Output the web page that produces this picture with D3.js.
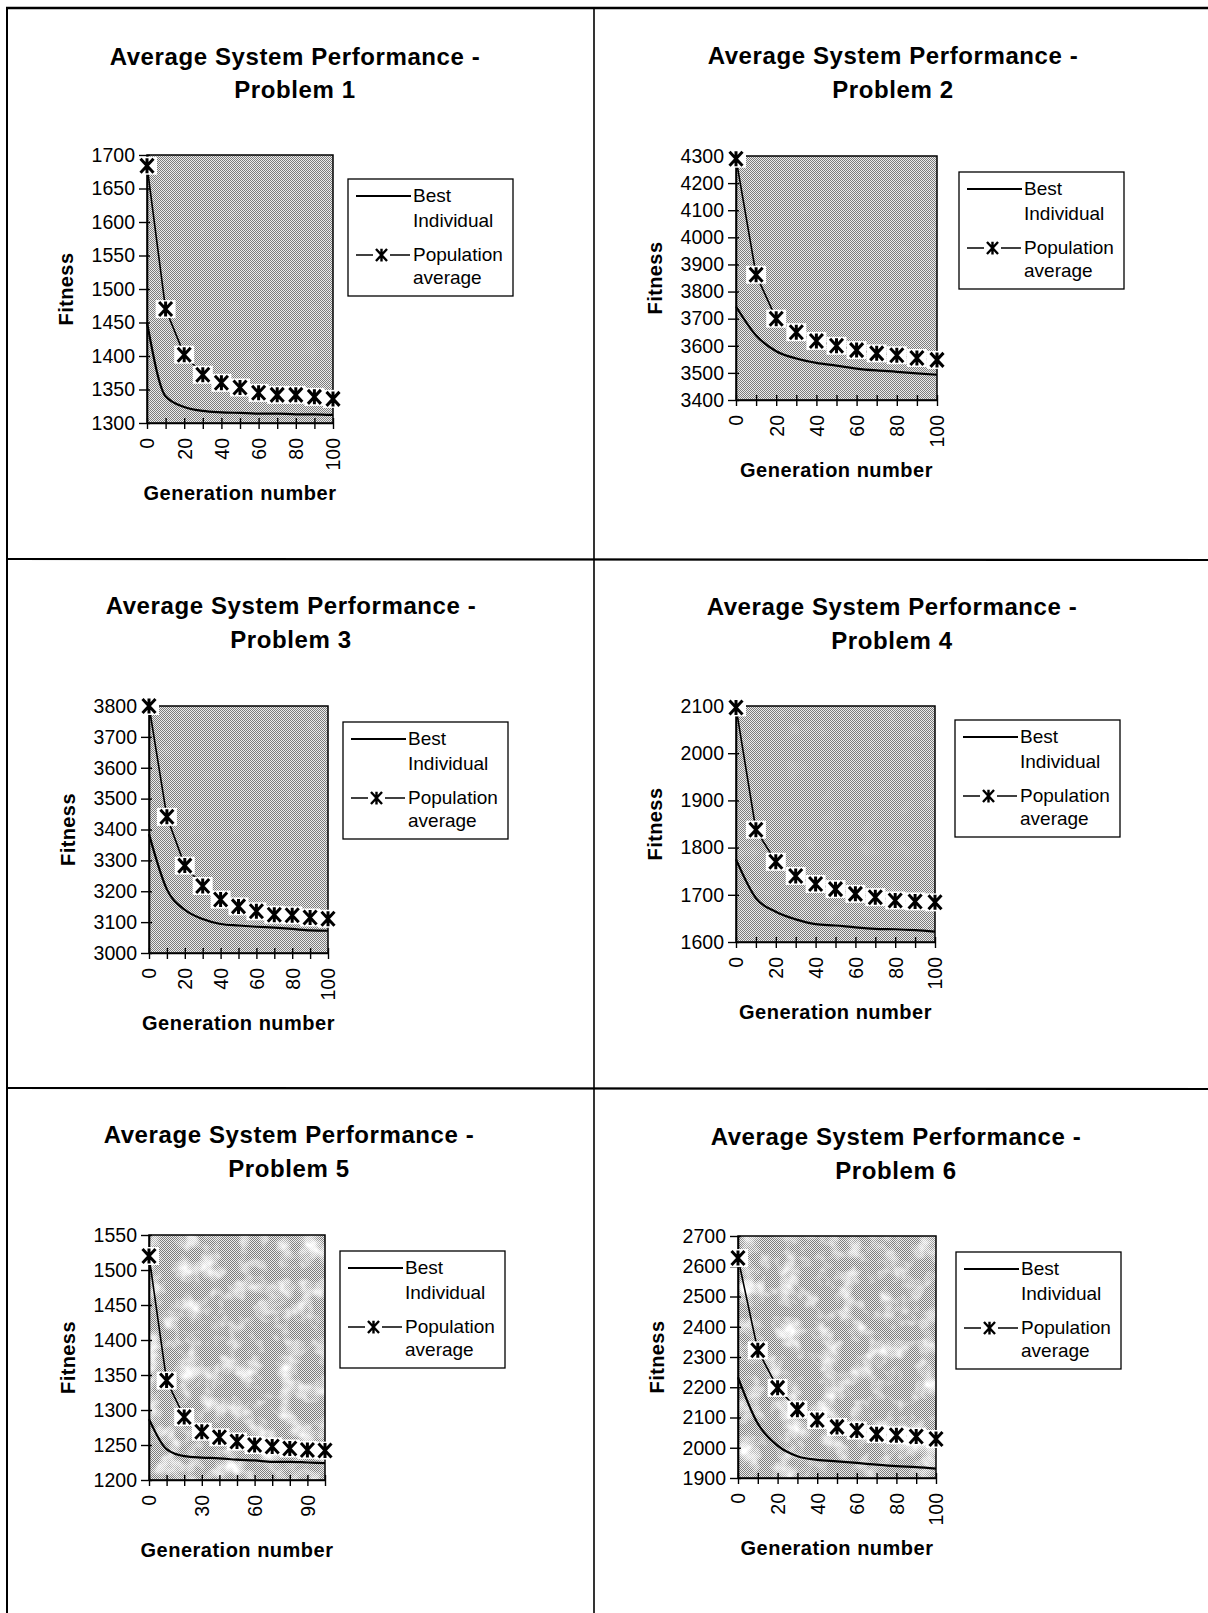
<!DOCTYPE html>
<html>
<head>
<meta charset="utf-8">
<script src="https://cdn.jsdelivr.net/npm/d3@7"></script>
<style>
  body { margin: 0; background: #fff; }
  svg { display: block; }
  text { font-family: "Liberation Sans", Arial, Helvetica, sans-serif; fill: #000; }
</style>
</head>
<body>
<svg id="chart" width="1208" height="1613"></svg>
<script>
// ---------------- DATA ----------------
const generations = [0, 10, 20, 30, 40, 50, 60, 70, 80, 90, 100];
const titleLine1 = "Average System Performance -";
const problemNames = ["Problem 1", "Problem 2", "Problem 3", "Problem 4", "Problem 5", "Problem 6"];
const seriesNames = ["Best Individual", "Population average"];

const best1 = [1450, 1340, 1324, 1318, 1316, 1315, 1314, 1314, 1313, 1313, 1312];
const pop1  = [1684, 1470, 1402, 1372, 1360, 1353, 1345, 1342, 1342, 1339, 1336];
const yTicks1 = [1300, 1350, 1400, 1450, 1500, 1550, 1600, 1650, 1700];
const xLabels1 = [0, 20, 40, 60, 80, 100];

const best2 = [3745, 3638, 3580, 3553, 3537, 3527, 3516, 3509, 3504, 3498, 3493];
const pop2  = [4290, 3862, 3700, 3650, 3618, 3600, 3584, 3572, 3565, 3555, 3548];
const yTicks2 = [3400, 3500, 3600, 3700, 3800, 3900, 4000, 4100, 4200, 4300];
const xLabels2 = [0, 20, 40, 60, 80, 100];

const best3 = [3385, 3206, 3140, 3110, 3094, 3089, 3085, 3082, 3078, 3073, 3072];
const pop3  = [3800, 3441, 3283, 3217, 3173, 3151, 3135, 3124, 3122, 3115, 3111];
const yTicks3 = [3000, 3100, 3200, 3300, 3400, 3500, 3600, 3700, 3800];
const xLabels3 = [0, 20, 40, 60, 80, 100];

const best4 = [1775, 1693, 1664, 1648, 1638, 1635, 1631, 1628, 1627, 1625, 1622];
const pop4  = [2097, 1838, 1770, 1740, 1723, 1712, 1702, 1695, 1688, 1686, 1684];
const yTicks4 = [1600, 1700, 1800, 1900, 2000, 2100];
const xLabels4 = [0, 20, 40, 60, 80, 100];

const best5 = [1287, 1244, 1234, 1232, 1231, 1229, 1228, 1226, 1226, 1225, 1224];
const pop5  = [1520, 1342, 1290, 1269, 1261, 1255, 1250, 1248, 1245, 1243, 1242];
const yTicks5 = [1200, 1250, 1300, 1350, 1400, 1450, 1500, 1550];
const xLabels5 = [0, 30, 60, 90];

const best6 = [2233, 2080, 2007, 1972, 1960, 1955, 1950, 1944, 1939, 1936, 1931];
const pop6  = [2627, 2322, 2198, 2126, 2092, 2069, 2057, 2045, 2041, 2037, 2029];
const yTicks6 = [1900, 2000, 2100, 2200, 2300, 2400, 2500, 2600, 2700];
const xLabels6 = [0, 20, 40, 60, 80, 100];

const bestSeries = [best1, best2, best3, best4, best5, best6];
const popSeries  = [pop1, pop2, pop3, pop4, pop5, pop6];
const yTickSets  = [yTicks1, yTicks2, yTicks3, yTicks4, yTicks5, yTicks6];
const xLabelSets = [xLabels1, xLabels2, xLabels3, xLabels4, xLabels5, xLabels6];

// ---------------- LAYOUT ----------------
const layout = [
  { x0: 147, x1: 333, y0: 155, y1: 423, tx: 295, t1: 65,   t2: 98,   lx: 348, ly: 179,  mottle: 0.12 },
  { x0: 736, x1: 937, y0: 156, y1: 400, tx: 893, t1: 64,   t2: 98,   lx: 959, ly: 172,  mottle: 0.12 },
  { x0: 149, x1: 328, y0: 706, y1: 953, tx: 291, t1: 614,  t2: 648,  lx: 343, ly: 722,  mottle: 0.12 },
  { x0: 736, x1: 935, y0: 706, y1: 942, tx: 892, t1: 615,  t2: 649,  lx: 955, ly: 720,  mottle: 0.15 },
  { x0: 149, x1: 325, y0: 1235, y1: 1480, tx: 289, t1: 1143, t2: 1177, lx: 340, ly: 1251, mottle: 0.8 },
  { x0: 738, x1: 936, y0: 1236, y1: 1478, tx: 896, t1: 1145, t2: 1179, lx: 956, ly: 1252, mottle: 0.8 }
];

const svg = d3.select("#chart");
const defs = svg.append("defs");

// halftone stipple
const pat = defs.append("pattern").attr("id", "stip")
  .attr("width", 2).attr("height", 2).attr("patternUnits", "userSpaceOnUse");
pat.append("rect").attr("width", 2).attr("height", 2).attr("fill", "#ececec");
pat.append("rect").attr("width", 1).attr("height", 1).attr("fill", "#7c7c7c");
pat.append("rect").attr("x", 1).attr("y", 1).attr("width", 1).attr("height", 1).attr("fill", "#7c7c7c");

function mottleFilter(id, strength, seed) {
  const f = defs.append("filter").attr("id", id)
    .attr("x", 0).attr("y", 0).attr("width", 1).attr("height", 1);
  f.append("feTurbulence").attr("type", "fractalNoise")
    .attr("baseFrequency", 0.05).attr("numOctaves", 3).attr("seed", seed);
  const a = (3.0 * strength).toFixed(2), b = (-1.3 * strength - (1 - strength) * 0.1).toFixed(2);
  f.append("feColorMatrix").attr("type", "matrix")
    .attr("values", `0 0 0 0 1  0 0 0 0 1  0 0 0 0 1  ${a} 0 0 0 ${b}`);
}

// ---------------- PAGE FRAME ----------------
const frame = svg.append("g").attr("stroke", "#000").attr("fill", "none");
frame.append("line").attr("x1", 6).attr("x2", 1208).attr("y1", 8).attr("y2", 8).attr("stroke-width", 2.5);
frame.append("line").attr("x1", 7).attr("x2", 7).attr("y1", 7).attr("y2", 1613).attr("stroke-width", 2);
frame.append("line").attr("x1", 594).attr("x2", 594).attr("y1", 8).attr("y2", 1613).attr("stroke-width", 1.6);
frame.append("line").attr("x1", 7).attr("x2", 1208).attr("y1", 559).attr("y2", 560).attr("stroke-width", 2.2);
frame.append("line").attr("x1", 7).attr("x2", 1208).attr("y1", 1088).attr("y2", 1089).attr("stroke-width", 2.2);

// marker path (asterisk-like: X with vertical bar)
function markerPath(s) {
  const w = 6.5 * s, h = 7 * s, v = 7.5 * s;
  return `M${-w},${-h}L${w},${h}M${w},${-h}L${-w},${h}M0,${-v}L0,${v}`;
}

const font = "'Liberation Sans', Arial, Helvetica, sans-serif";

layout.forEach((L, i) => {
  const g = svg.append("g");
  const best = bestSeries[i], pop = popSeries[i];
  const yTicks = yTickSets[i], xLabels = xLabelSets[i];

  const x = d3.scaleLinear().domain([0, 100]).range([L.x0, L.x1]);
  const y = d3.scaleLinear().domain([d3.min(yTicks), d3.max(yTicks)]).range([L.y1, L.y0]);

  // title
  const t = g.append("g").attr("font-weight", "bold").attr("font-size", 24)
    .attr("text-anchor", "middle").attr("letter-spacing", 0.6);
  t.append("text").attr("x", L.tx).attr("y", L.t1).text(titleLine1);
  t.append("text").attr("x", L.tx).attr("y", L.t2).text(problemNames[i]);

  // plot area background
  g.append("rect").attr("x", L.x0).attr("y", L.y0)
    .attr("width", L.x1 - L.x0).attr("height", L.y1 - L.y0)
    .attr("fill", "url(#stip)");
  const fid = "mottle" + i;
  mottleFilter(fid, L.mottle, 3 + i * 5);
  g.append("rect").attr("x", L.x0).attr("y", L.y0)
    .attr("width", L.x1 - L.x0).attr("height", L.y1 - L.y0)
    .attr("fill", "#fff").attr("filter", `url(#${fid})`);
  g.append("rect").attr("x", L.x0).attr("y", L.y0)
    .attr("width", L.x1 - L.x0).attr("height", L.y1 - L.y0)
    .attr("fill", "none").attr("stroke", "#000").attr("stroke-width", 1.5);

  // best individual line
  const bestLine = d3.line().x((d, k) => x(generations[k])).y(d => y(d)).curve(d3.curveMonotoneX);
  g.append("path").datum(best).attr("d", bestLine)
    .attr("fill", "none").attr("stroke", "#000").attr("stroke-width", 2.2);

  // population average line
  const popLine = d3.line().x((d, k) => x(generations[k])).y(d => y(d));
  g.append("path").datum(pop).attr("d", popLine)
    .attr("fill", "none").attr("stroke", "#000").attr("stroke-width", 1.6);

  // y axis
  const yAxis = d3.axisLeft(y).tickValues(yTicks).tickSizeInner(8).tickSizeOuter(0).tickPadding(4)
    .tickFormat(d3.format("d"));
  const ya = g.append("g").attr("transform", `translate(${L.x0},0)`).call(yAxis);
  ya.select(".domain").attr("stroke-width", 1.6);
  ya.selectAll(".tick line").attr("x1", 3).attr("stroke-width", 1.4);
  ya.selectAll(".tick text").attr("font-size", 19.5).attr("font-family", font).attr("fill", "#000");

  // x axis
  const xAxis = d3.axisBottom(x).tickValues(generations).tickSizeInner(6).tickSizeOuter(0)
    .tickFormat(d => xLabels.includes(d) ? String(d) : "");
  const xa = g.append("g").attr("transform", `translate(0,${L.y1})`).call(xAxis);
  xa.select(".domain").attr("stroke-width", 1.6);
  xa.selectAll(".tick line").attr("y1", -5).attr("stroke-width", 1.4);
  xa.selectAll(".tick text")
    .attr("font-size", 19.5).attr("font-family", font).attr("fill", "#000")
    .attr("transform", "rotate(-90)")
    .attr("x", -15).attr("y", 0).attr("dy", "0.35em")
    .attr("text-anchor", "end");

  // white halos + markers
  g.selectAll("rect.halo").data(pop).join("rect").attr("class", "halo")
    .attr("x", (d, k) => x(generations[k]) - 10).attr("y", d => y(d) - 9)
    .attr("width", 20).attr("height", 18).attr("fill", "#fff");
  g.selectAll("path.mk").data(pop).join("path").attr("class", "mk")
    .attr("transform", (d, k) => `translate(${x(generations[k])},${y(d)})`)
    .attr("d", markerPath(1))
    .attr("fill", "none").attr("stroke", "#000").attr("stroke-width", 3);

  // axis titles
  g.append("text").attr("transform", `translate(${L.x0 - 81},${(L.y0 + L.y1) / 2}) rotate(-90)`)
    .attr("text-anchor", "middle").attr("dy", "0.35em")
    .attr("font-weight", "bold").attr("font-size", 20).attr("letter-spacing", 0.4).text("Fitness");
  g.append("text").attr("x", (L.x0 + L.x1) / 2).attr("y", L.y1 + 77)
    .attr("text-anchor", "middle").attr("font-weight", "bold").attr("font-size", 20)
    .attr("letter-spacing", 0.5).text("Generation number");

  // legend
  const lg = g.append("g").attr("transform", `translate(${L.lx},${L.ly})`);
  lg.append("rect").attr("width", 165).attr("height", 117)
    .attr("fill", "#fff").attr("stroke", "#000").attr("stroke-width", 1.3);
  lg.append("line").attr("x1", 8).attr("x2", 63).attr("y1", 17).attr("y2", 17)
    .attr("stroke", "#000").attr("stroke-width", 2);
  lg.append("line").attr("x1", 8).attr("x2", 62).attr("y1", 76).attr("y2", 76)
    .attr("stroke", "#000").attr("stroke-width", 1.4);
  lg.append("rect").attr("x", 25).attr("y", 68).attr("width", 17).attr("height", 16).attr("fill", "#fff");
  lg.append("path").attr("transform", "translate(33.5,76)").attr("d", markerPath(0.85))
    .attr("fill", "none").attr("stroke", "#000").attr("stroke-width", 2.4);
  const lt = lg.append("g").attr("font-size", 19);
  const bestWords = seriesNames[0].split(" ");
  const popWords = seriesNames[1].split(" ");
  lt.append("text").attr("x", 65).attr("y", 23).text(bestWords[0]);
  lt.append("text").attr("x", 65).attr("y", 48).text(bestWords[1]);
  lt.append("text").attr("x", 65).attr("y", 82).text(popWords[0]);
  lt.append("text").attr("x", 65).attr("y", 105).text(popWords[1]);
});
</script>
</body>
</html>
